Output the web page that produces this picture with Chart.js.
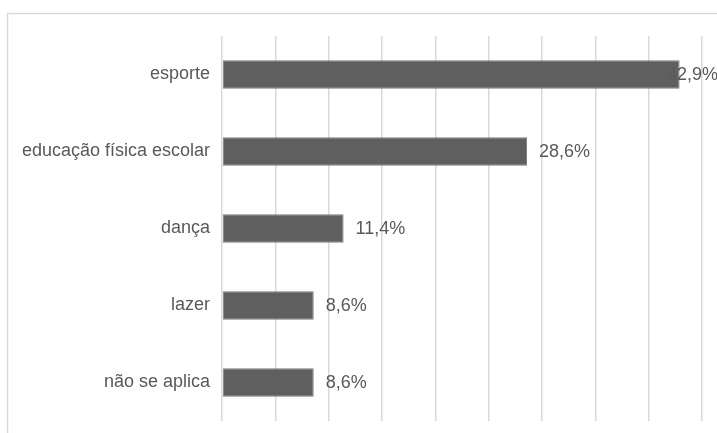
<!DOCTYPE html>
<html>
<head>
<meta charset="utf-8">
<script src="https://cdn.jsdelivr.net/npm/chart.js"></script>
<style>
  html, body { margin: 0; padding: 0; background: #fff; }
  #wrap { width: 717px; height: 433px; }
</style>
</head>
<body>
<div id="wrap"><canvas id="graph" width="717" height="433"></canvas></div>
<script>
const categories = ['esporte', 'educação física escolar', 'dança', 'lazer', 'não se aplica'];
const values = [42.9, 28.6, 11.4, 8.6, 8.6];
const xTicks = [0, 5, 10, 15, 20, 25, 30, 35, 40, 45];

const barGray = '#5f5f5f';
const textGray = '#595959';
const gridGray = '#d9d9d9';
const fontFam = '"Liberation Sans", Arial, sans-serif';

// outer frame of the chart, like the excel chart border
const frame = {
  id: 'frame',
  beforeDraw(chart) {
    const c = chart.ctx;
    c.save();
    c.strokeStyle = gridGray;
    c.lineWidth = 1.5;
    c.strokeRect(7.5, 13.5, 720, 440);
    c.restore();
  }
};

// value labels at the end of bars
const barLabels = {
  id: 'barLabels',
  afterDatasetsDraw(chart) {
    const c = chart.ctx;
    const meta = chart.getDatasetMeta(0);
    c.save();
    c.font = '18px ' + fontFam;
    c.fillStyle = textGray;
    c.textBaseline = 'middle';
    meta.data.forEach((bar, i) => {
      const txt = values[i].toFixed(1).replace('.', ',') + '%';
      let x = bar.x + 12;
      x = Math.min(x, chart.width - 50);
      c.fillText(txt, x, bar.y + 1);
    });
    c.restore();
  }
};

new Chart(document.getElementById('graph'), {
  type: 'bar',
  data: {
    labels: categories,
    datasets: [{
      data: values,
      backgroundColor: barGray,
      borderColor: '#7a7a7a',
      borderWidth: 1,
      borderSkipped: false,
      barPercentage: 0.37,
      categoryPercentage: 1
    }]
  },
  options: {
    indexAxis: 'y',
    responsive: false,
    animation: false,
    layout: { padding: { top: 36, bottom: 12, right: 15, left: 0 } },
    plugins: { legend: { display: false }, tooltip: { enabled: false } },
    scales: {
      x: {
        min: 0,
        max: 45,
        afterBuildTicks: s => { s.ticks = xTicks.map(v => ({ value: v })); },
        afterFit: s => { s.height = 0; s.paddingLeft = 0; s.paddingRight = 0; },
        ticks: { display: false },
        grid: { color: gridGray, lineWidth: 1.5, drawTicks: false },
        border: { display: false }
      },
      y: {
        afterFit: s => { s.width = 222; s.paddingTop = 0; s.paddingBottom = 0; },
        ticks: {
          color: textGray,
          padding: 12,
          font: { family: fontFam, size: 18 }
        },
        grid: { display: false, drawTicks: false },
        border: { display: false }
      }
    }
  },
  plugins: [frame, barLabels]
});
</script>
</body>
</html>
